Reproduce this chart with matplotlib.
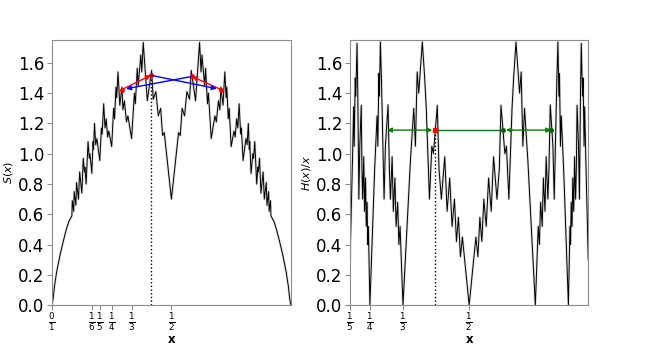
import numpy as np
import matplotlib
matplotlib.use('Agg')
import matplotlib.pyplot as plt

# S(x) on [0, 1], vertices
s_x = [0.0, 0.0055, 0.01, 0.0195, 0.035, 0.047, 0.06, 0.07, 0.0833, 0.085, 0.0909, 0.093,
       0.1, 0.103, 0.111, 0.116, 0.125, 0.131, 0.136, 0.138, 0.1429, 0.151, 0.156, 0.159,
       0.1667, 0.172, 0.174, 0.178, 0.183, 0.188, 0.2, 0.207, 0.21, 0.2165, 0.222, 0.227,
       0.233, 0.238, 0.25, 0.258, 0.262, 0.268, 0.271, 0.2764, 0.284, 0.2929, 0.297, 0.303,
       0.312, 0.318, 0.3333, 0.345, 0.349, 0.357, 0.361, 0.372, 0.376, 0.382, 0.399, 0.417,
       0.424, 0.435, 0.445, 0.455, 0.463, 0.47, 0.5,
       0.53, 0.537, 0.545, 0.555, 0.565, 0.576, 0.583, 0.601, 0.618, 0.624, 0.628, 0.639,
       0.643, 0.651, 0.655, 0.6667, 0.682, 0.688, 0.697, 0.703, 0.7071, 0.716, 0.7236, 0.729,
       0.732, 0.738, 0.742, 0.75, 0.762, 0.767, 0.773, 0.778, 0.7835, 0.79, 0.793, 0.8,
       0.812, 0.817, 0.822, 0.826, 0.828, 0.8333, 0.841, 0.844, 0.849, 0.8571, 0.862, 0.864,
       0.869, 0.875, 0.884, 0.889, 0.897, 0.9, 0.907, 0.9091, 0.915, 0.9167, 0.93, 0.94,
       0.953, 0.965, 0.9805, 0.99, 0.9945, 1.0]
s_y = [0.0, 0.05, 0.12, 0.22, 0.34, 0.42, 0.50, 0.55, 0.59, 0.69, 0.62, 0.75,
       0.66, 0.81, 0.70, 0.88, 0.74, 0.97, 0.88, 0.91, 0.80, 1.08, 0.97, 1.00,
       0.87, 1.08, 1.03, 1.20, 1.06, 1.10, 0.955, 1.17, 1.13, 1.33, 1.17, 1.23,
       1.11, 1.15, 1.047, 1.30, 1.23, 1.44, 1.37, 1.54, 1.32, 1.44, 1.29, 1.35,
       1.21, 1.25, 1.10, 1.40, 1.33, 1.564, 1.45, 1.652, 1.54, 1.735, 1.35, 1.55,
       1.36, 1.41, 1.25, 1.30, 1.12, 1.14, 0.70,
       1.14, 1.12, 1.30, 1.25, 1.41, 1.36, 1.55, 1.35, 1.735, 1.54, 1.652, 1.45,
       1.564, 1.33, 1.40, 1.10, 1.25, 1.21, 1.35, 1.29, 1.44, 1.32, 1.54, 1.37,
       1.44, 1.23, 1.30, 1.047, 1.15, 1.11, 1.23, 1.17, 1.33, 1.13, 1.17, 0.955,
       1.10, 1.06, 1.20, 1.03, 1.08, 0.87, 1.00, 0.97, 1.08, 0.80, 0.91, 0.88,
       0.97, 0.74, 0.88, 0.70, 0.81, 0.66, 0.75, 0.62, 0.69, 0.59, 0.55, 0.50,
       0.42, 0.34, 0.22, 0.12, 0.05, 0.0]

# H(x)/x on [1/5, 4/5]
h_x = [0.2, 0.206, 0.209, 0.2105, 0.213, 0.2145, 0.2176, 0.2195, 0.2222, 0.2245, 0.2282,
       0.23, 0.2318, 0.2345, 0.2365, 0.239, 0.2408, 0.243, 0.2445, 0.2462, 0.25,
       0.262, 0.268, 0.27, 0.2725, 0.274, 0.2764, 0.279, 0.2857, 0.289, 0.2957, 0.299,
       0.3017, 0.306, 0.309, 0.313, 0.316, 0.32, 0.323, 0.326, 0.3333,
       0.352, 0.3605, 0.3647, 0.369, 0.373, 0.382, 0.388, 0.392, 0.4, 0.406, 0.41, 0.4198,
       0.424, 0.43, 0.4385, 0.4445, 0.451, 0.457, 0.463, 0.468, 0.473, 0.478, 0.483, 0.5,
       0.517, 0.522, 0.527, 0.532, 0.537, 0.543, 0.549, 0.5555, 0.5615, 0.57, 0.576,
       0.5802, 0.59, 0.594, 0.6, 0.608, 0.612, 0.618, 0.627, 0.631, 0.6353, 0.6395, 0.648,
       0.6667, 0.674, 0.677, 0.68, 0.684, 0.687, 0.691, 0.694, 0.6983, 0.701, 0.7043,
       0.711, 0.7143, 0.721, 0.7236, 0.726, 0.7275, 0.73, 0.732, 0.738, 0.75,
       0.7538, 0.7555, 0.757, 0.7592, 0.761, 0.7635, 0.7655, 0.7682, 0.77, 0.7718, 0.7755,
       0.7778, 0.7805, 0.7824, 0.7855, 0.787, 0.7895, 0.791, 0.794, 0.8]
h_y = [0.30, 0.95, 1.31, 1.05, 1.50, 1.38, 1.729, 1.40, 0.70, 1.05, 1.32,
       0.90, 0.70, 0.98, 0.62, 0.84, 0.52, 0.68, 0.40, 0.52, 0.0,
       0.90, 1.25, 1.05, 1.53, 1.38, 1.738, 1.50, 0.70, 1.05, 1.323, 0.90,
       0.70, 0.98, 0.62, 0.84, 0.52, 0.68, 0.40, 0.52, 0.0,
       0.95, 1.30, 1.05, 1.54, 1.40, 1.738, 1.50, 1.30, 0.70, 1.05, 1.0, 1.32,
       0.90, 0.70, 0.98, 0.62, 0.84, 0.52, 0.70, 0.42, 0.58, 0.32, 0.45, 0.0,
       0.45, 0.32, 0.58, 0.42, 0.70, 0.52, 0.84, 0.62, 0.98, 0.70, 0.90,
       1.32, 1.0, 1.05, 0.70, 1.30, 1.50, 1.738, 1.40, 1.54, 1.05, 1.30, 0.95,
       0.0, 0.52, 0.40, 0.68, 0.52, 0.84, 0.62, 0.98, 0.70, 0.90, 1.323,
       1.05, 0.70, 1.50, 1.738, 1.38, 1.53, 1.05, 1.25, 0.90, 0.0,
       0.52, 0.40, 0.68, 0.52, 0.84, 0.62, 0.98, 0.70, 0.90, 1.32, 1.05,
       0.70, 1.40, 1.729, 1.38, 1.50, 1.05, 1.31, 0.95, 0.30]

# marked points
pts_x = [0.2929, 0.4142, 0.5858, 0.7071]
pts_s = [1.424, 1.518, 1.51, 1.424]
h_level = 1.156

s_ticks = [0, 1/6, 1/5, 1/4, 1/3, 1/2]
s_ticklabels = [r'$\frac{0}{1}$', r'$\frac{1}{6}$', r'$\frac{1}{5}$', r'$\frac{1}{4}$',
                r'$\frac{1}{3}$', r'$\frac{1}{2}$']
h_ticks = [1/5, 1/4, 1/3, 1/2]
h_ticklabels = [r'$\frac{1}{5}$', r'$\frac{1}{4}$', r'$\frac{1}{3}$', r'$\frac{1}{2}$']

fig = plt.figure(figsize=(6.58, 3.46), dpi=100)
ax1 = fig.add_axes([0.079, 0.118, 0.363, 0.766])
ax2 = fig.add_axes([0.532, 0.118, 0.362, 0.766])

def style(ax):
    for sp in ax.spines.values():
        sp.set_color('0.55')
    ax.tick_params(axis='y', labelsize=12, colors='0.55', labelcolor='k', pad=2)
    ax.tick_params(axis='x', labelsize=9, colors='0.55', labelcolor='k', pad=0.5)
    ax.set_ylim(0, 1.75)
    ax.set_yticks(np.arange(0, 1.61, 0.2))
    ax.set_xlabel('x', fontweight='bold', fontsize=8.5)
    ax.xaxis.set_label_coords(0.5, -0.105)
    ax.xaxis.label.set_va('top')

# left panel
ax1.plot(s_x, s_y, color='0.6', lw=1.8, alpha=0.35)
ax1.plot(s_x, s_y, 'k', lw=0.7)
ax1.plot([pts_x[1], pts_x[1]], [0, pts_s[1]], 'k:', lw=1)
ax1.annotate('', xy=(pts_x[1], pts_s[1]), xytext=(pts_x[0], pts_s[0]),
             arrowprops=dict(arrowstyle='-|>', color='red', lw=1, mutation_scale=7, shrinkA=0, shrinkB=0))
ax1.annotate('', xy=(pts_x[2], pts_s[2]), xytext=(pts_x[3], pts_s[3]),
             arrowprops=dict(arrowstyle='-|>', color='red', lw=1, mutation_scale=7, shrinkA=0, shrinkB=0))
ax1.annotate('', xy=(pts_x[3], pts_s[3]), xytext=(pts_x[1], pts_s[1]),
             arrowprops=dict(arrowstyle='-|>', color='blue', lw=1, mutation_scale=7, shrinkA=0, shrinkB=3))
ax1.annotate('', xy=(pts_x[0], pts_s[0]), xytext=(pts_x[2], pts_s[2]),
             arrowprops=dict(arrowstyle='-|>', color='blue', lw=1, mutation_scale=7, shrinkA=0, shrinkB=3))
ax1.plot(pts_x, pts_s, 'o', color='red', ms=2.5)
ax1.set_xlim(0, 1)
ax1.set_xticks(s_ticks)
ax1.set_xticklabels(s_ticklabels)
ax1.set_ylabel('$S(x)$', fontsize=8, labelpad=2)
style(ax1)

# right panel
ax2.plot(h_x, h_y, color='0.6', lw=1.8, alpha=0.35)
ax2.plot(h_x, h_y, 'k', lw=0.7)
ax2.plot([pts_x[1], pts_x[1]], [0, h_level], 'k:', lw=1)
ax2.annotate('', xy=(pts_x[0], h_level), xytext=(pts_x[1], h_level),
             arrowprops=dict(arrowstyle='<|-|>', color='green', lw=1, mutation_scale=7, shrinkA=2, shrinkB=0))
ax2.plot([pts_x[1], pts_x[2]], [h_level, h_level], color='green', lw=1)
ax2.annotate('', xy=(pts_x[3], h_level), xytext=(pts_x[2], h_level),
             arrowprops=dict(arrowstyle='<|-|>', color='green', lw=1, mutation_scale=7, shrinkA=2, shrinkB=0))
ax2.plot([pts_x[2], pts_x[3]], [h_level, h_level], 'o', color='darkgreen', ms=2.5)
ax2.plot([pts_x[1]], [h_level], 's', color='red', ms=3)
ax2.set_xlim(0.2, 0.8)
ax2.set_xticks(h_ticks)
ax2.set_xticklabels(h_ticklabels)
ax2.set_ylabel('$H(x)/x$', fontsize=8, labelpad=2)
style(ax2)

plt.savefig('out.png', dpi=100)
